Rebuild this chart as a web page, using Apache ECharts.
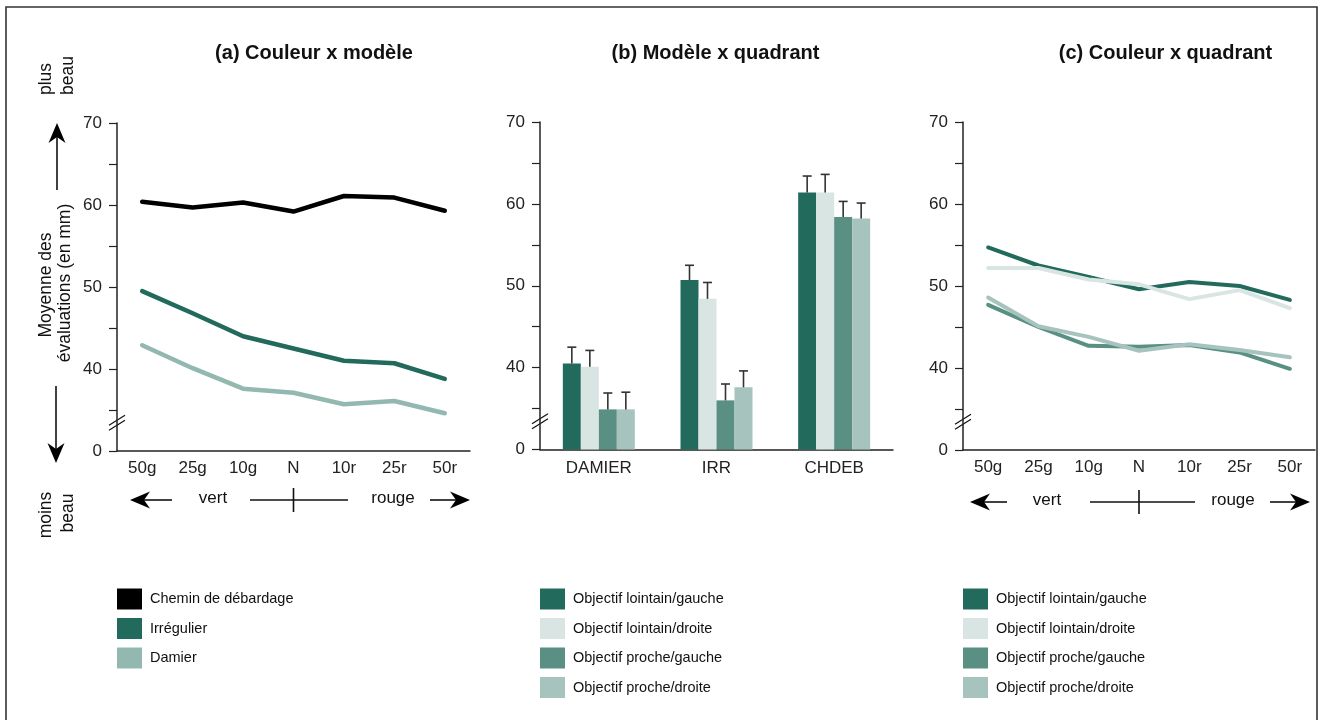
<!DOCTYPE html>
<html>
<head>
<meta charset="utf-8">
<script src="https://cdn.jsdelivr.net/npm/echarts@6/dist/echarts.min.js"></script>
<style>
  html, body { margin: 0; padding: 0; background: #fff; }
  #chart { width: 1325px; height: 720px; }
</style>
</head>
<body>
<div id="chart"></div>
<script>
// ---- data ----
const colourSteps = ['50g', '25g', '10g', 'N', '10r', '25r', '50r'];
const models = ['DAMIER', 'IRR', 'CHDEB'];
// the value axis starts at 30 (drawn as "0" below the axis break)
const yTickLabels = { 30: '0', 40: '40', 50: '50', 60: '60', 70: '70' };

// (a) colour x model
const modelNames = ['Chemin de débardage', 'Irrégulier', 'Damier'];
const chemin     = [60.4, 59.7, 60.3, 59.2, 61.1, 60.9, 59.3];
const irregulier = [49.5, 46.8, 44.0, 42.5, 41.0, 40.7, 38.8];
const damier     = [42.9, 40.1, 37.6, 37.1, 35.7, 36.1, 34.6];

// (b) model x quadrant (means, upper end of the error bars)
const quadNames = ['Objectif lointain/gauche', 'Objectif lointain/droite',
                   'Objectif proche/gauche', 'Objectif proche/droite'];
const lointainGaucheBar = [40.5, 50.7, 61.4];
const lointainDroiteBar = [40.1, 48.4, 61.4];
const procheGaucheBar   = [34.9, 36.0, 58.4];
const procheDroiteBar   = [34.9, 37.6, 58.2];
const lointainGaucheErr = [42.5, 52.5, 63.4];
const lointainDroiteErr = [42.1, 50.4, 63.6];
const procheGaucheErr   = [36.9, 38.0, 60.3];
const procheDroiteErr   = [37.0, 39.6, 60.1];

// (c) colour x quadrant
const lointainGauche = [54.7, 52.5, 51.1, 49.6, 50.5, 50.0, 48.3];
const lointainDroite = [52.2, 52.2, 50.8, 50.2, 48.4, 49.5, 47.3];
const procheGauche   = [47.7, 45.0, 42.7, 42.6, 42.8, 41.9, 39.9];
const procheDroite   = [48.6, 45.1, 43.8, 42.1, 42.9, 42.2, 41.3];

// ---- style ----
const FONT = '"Liberation Sans", Arial, Helvetica, sans-serif';
const INK = '#222';
const modelColours = ['#000000', '#216a5c', '#93b8b0'];
const quadColours = ['#216a5c', '#d9e5e2', '#5a8f84', '#a6c4bd'];
const BAR_W = 18;
const grids = [
  { left: 117, top: 123, width: 353, height: 328 },
  { left: 540, top: 122, width: 353, height: 327.5 },
  { left: 963, top: 122, width: 352, height: 328 }
];

const chart = echarts.init(document.getElementById('chart'), null, { renderer: 'canvas' });

function valueAxis(i) {
  return {
    type: 'value', gridIndex: i, min: 30, max: 70, interval: 5,
    splitLine: { show: false },
    axisLine: { show: true, lineStyle: { color: INK, width: 1.5 } },
    axisTick: { show: true, length: 8, lineStyle: { color: INK, width: 1.2 } },
    axisLabel: {
      margin: 15, color: INK, fontFamily: FONT, fontSize: 17,
      formatter: v => yTickLabels[v] || ''
    }
  };
}
function categoryAxis(i, data, margin) {
  return {
    type: 'category', gridIndex: i, data: data, boundaryGap: true,
    axisLine: { show: true, lineStyle: { color: INK, width: 1.5 } },
    axisTick: { show: false },
    axisLabel: { margin: margin, color: INK, fontFamily: FONT, fontSize: 17, interval: 0 }
  };
}
function lineSeries(name, data, colour, axisIdx, width) {
  return {
    type: 'line', name: name, data: data, xAxisIndex: axisIdx, yAxisIndex: axisIdx,
    symbol: 'none', smooth: false, color: colour,
    lineStyle: { color: colour, width: width, cap: 'round', join: 'round' },
    itemStyle: { color: colour }
  };
}
function legend(names, left) {
  return {
    data: names, left: left, top: 588.5, orient: 'vertical', padding: 0,
    icon: 'rect', itemWidth: 25, itemHeight: 21, itemGap: 8.5,
    textStyle: { fontFamily: FONT, fontSize: 14.5, color: '#111', padding: [0, 0, 0, 3] }
  };
}

const barValues = [lointainGaucheBar, lointainDroiteBar, procheGaucheBar, procheDroiteBar];
const errValues = [lointainGaucheErr, lointainDroiteErr, procheGaucheErr, procheDroiteErr];
const errData = [];
barValues.forEach((vals, s) => vals.forEach((v, c) => errData.push([c, s, v, errValues[s][c]])));

const series = [
  lineSeries(modelNames[0], chemin, modelColours[0], 0, 4.5),
  lineSeries(modelNames[1], irregulier, modelColours[1], 0, 4.5),
  lineSeries(modelNames[2], damier, modelColours[2], 0, 4.5)
];
barValues.forEach((vals, s) => series.push({
  type: 'bar', name: quadNames[s], data: vals, xAxisIndex: 1, yAxisIndex: 1,
  barWidth: BAR_W, barGap: '0%', color: quadColours[s], itemStyle: { color: quadColours[s] }
}));
series.push({
  type: 'custom', name: 'erreur', xAxisIndex: 1, yAxisIndex: 1, data: errData, z: 5,
  renderItem: (params, api) => {
    const cat = api.value(0), slot = api.value(1);
    const base = api.coord([cat, api.value(2)]);
    const top = api.coord([cat, api.value(3)]);
    const x = base[0] + (slot - 1.5) * BAR_W;
    const st = { stroke: '#333', lineWidth: 1.6 };
    return { type: 'group', children: [
      { type: 'line', shape: { x1: x, y1: base[1], x2: x, y2: top[1] }, style: st },
      { type: 'line', shape: { x1: x - 4.5, y1: top[1], x2: x + 4.5, y2: top[1] }, style: st }
    ] };
  }
});
[lointainGauche, lointainDroite, procheGauche, procheDroite].forEach((d, s) =>
  series.push(lineSeries(quadNames[s], d, quadColours[s], 2, 4)));

chart.setOption({
  backgroundColor: '#fff',
  animation: false,
  grid: grids.map(g => Object.assign({ outerBoundsMode: 'none', containLabel: false }, g)),
  xAxis: [categoryAxis(0, colourSteps, 9), categoryAxis(1, models, 10), categoryAxis(2, colourSteps, 9)],
  yAxis: [valueAxis(0), valueAxis(1), valueAxis(2)],
  legend: [legend(modelNames, 117), legend(quadNames, 540), legend(quadNames, 963)],
  series: series
});

// ---- annotations: frame, titles, axis breaks, direction arrows ----
function txt(text, x, y, opts) {
  return Object.assign({
    type: 'text', x: x, y: y, silent: true,
    style: Object.assign({ text: text, fill: '#111', font: '17px ' + FONT, align: 'center', verticalAlign: 'middle' }, opts && opts.style)
  }, opts && opts.el);
}
function vtxt(text, x, y, align) {
  return txt(text, x, y, { el: { rotation: Math.PI / 2 }, style: { font: '17.5px ' + FONT, align: align || 'center' } });
}
function line(x1, y1, x2, y2, w) {
  return { type: 'line', silent: true, shape: { x1, y1, x2, y2 }, style: { stroke: '#111', lineWidth: w || 1.5 } };
}
function arrow(x1, y1, x2, y2) {
  const L = 20, W = 8.5, N = 6;
  const len = Math.hypot(x2 - x1, y2 - y1);
  const dx = (x2 - x1) / len, dy = (y2 - y1) / len, nx = -dy, ny = dx;
  const bx = x2 - dx * (L - N), by = y2 - dy * (L - N);
  return [
    line(x1, y1, bx, by, 1.6),
    { type: 'polygon', silent: true, shape: { points: [
      [x2, y2], [x2 - dx * L + nx * W, y2 - dy * L + ny * W], [bx, by], [x2 - dx * L - nx * W, y2 - dy * L - ny * W]
    ] }, style: { fill: '#000' } }
  ];
}
function breakMarks(gi) {
  const x = grids[gi].left;
  const y = chart.convertToPixel({ yAxisIndex: gi }, 33.5);
  return [line(x - 8, y + 3, x + 8, y - 7, 1.2), line(x - 8, y + 8, x + 8, y - 2, 1.2)];
}
function directionRow(y, leftTip, leftEnd, vertX, midL, midR, midX, rougeX, rightStart, rightTip) {
  return [].concat(
    arrow(leftEnd, y, leftTip, y),
    [txt('vert', vertX, y - 2), line(midL, y, midR, y, 1.6), line(midX, y - 12, midX, y + 12, 1.6),
     txt('rouge', rougeX, y - 2)],
    arrow(rightStart, y, rightTip, y)
  );
}

const nA = chart.convertToPixel({ xAxisIndex: 0 }, 'N');
const nC = chart.convertToPixel({ xAxisIndex: 2 }, 'N');

const graphics = [].concat(
  [{ type: 'rect', silent: true, shape: { x: 6, y: 7, width: 1311, height: 720 },
     style: { fill: null, stroke: '#333', lineWidth: 1.6 } }],
  [
    txt('(a) Couleur x modèle', 314, 53, { style: { font: 'bold 20px ' + FONT } }),
    txt('(b) Modèle x quadrant', 715.5, 53, { style: { font: 'bold 20px ' + FONT } }),
    txt('(c) Couleur x quadrant', 1165.5, 53, { style: { font: 'bold 20px ' + FONT } }),
    vtxt('Moyenne des', 46.5, 285),
    vtxt('évaluations (en mm)', 65.5, 283),
    vtxt('plus', 46.5, 95, 'left'),
    vtxt('beau', 68.5, 95, 'left'),
    vtxt('moins', 46.5, 515),
    vtxt('beau', 68, 513)
  ],
  arrow(57, 190, 57, 123),
  arrow(56, 386, 56, 463),
  breakMarks(0), breakMarks(1), breakMarks(2),
  directionRow(500, 130, 172, 213, 250, 348, nA, 393, 430, 470),
  directionRow(502, 970, 1007, 1047, 1090, 1195, nC, 1233, 1270, 1310)
);
chart.setOption({ graphic: graphics });
</script>
</body>
</html>
